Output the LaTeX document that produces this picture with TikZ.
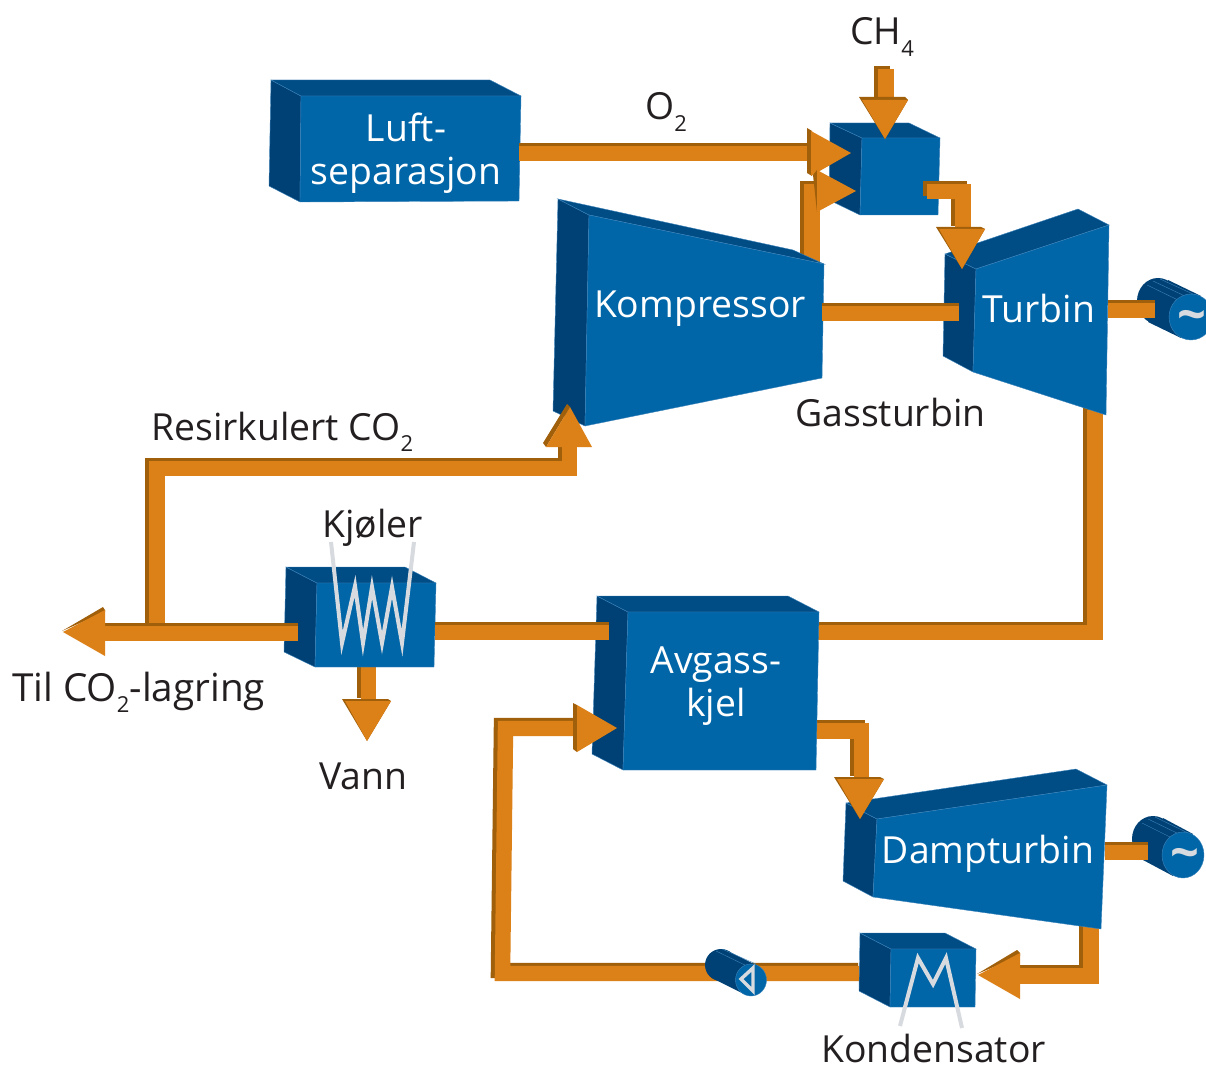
\documentclass[tikz,border=0pt]{standalone}
\usepackage{fontspec}
\setmainfont{Open Sans}
\usepackage{xcolor}

\definecolor{boxfront}{RGB}{0,102,168}
\definecolor{boxside}{RGB}{0,65,117}
\definecolor{boxtop}{RGB}{0,76,133}
\definecolor{boxedge}{RGB}{60,130,185}
\definecolor{pipeorange}{RGB}{220,128,24}
\definecolor{pipedark}{RGB}{160,95,10}
\definecolor{wiregray}{RGB}{215,218,222}
\definecolor{labelgray}{RGB}{35,31,32}

\newcommand{\lowtwo}[1]{\raisebox{-8.5pt}{\fontsize{16.5}{16.5}\selectfont #1}}

\tikzset{
  front/.style={fill=boxfront,draw=boxedge,line width=0.3pt},
  side/.style={fill=boxside,draw=boxedge,line width=0.3pt},
  top/.style={fill=boxtop,draw=boxedge,line width=0.3pt},
  pipe/.style={draw=pipeorange,line width=11.6pt},
  pipeshade/.style={draw=pipedark,line width=11.6pt,transform canvas={shift={(-3pt,2.25pt)}}},
  flatshade/.style={draw=pipedark,line width=11.6pt,transform canvas={shift={(0pt,2.25pt)}}},
  headface/.style={fill=pipeorange},
  headshade/.style={fill=pipedark},
  wire/.style={draw=wiregray,line width=3pt,miter limit=20},
  gencyl/.style={fill=boxside},
  stripe/.style={draw=boxedge,line width=0.3pt},
  tilde/.style={text=wiregray,font=\fontsize{38}{38}\bfseries\selectfont,inner sep=0pt},
  inbox/.style={text=white,font=\fontsize{28}{32}\selectfont,align=center,inner sep=0pt},
  outbox/.style={text=labelgray,font=\fontsize{28}{32}\selectfont,inner sep=0pt},
}

\begin{document}
\begin{tikzpicture}[x=0.75pt,y=0.75pt,yscale=-1,xscale=1]
\useasboundingbox (0,0) rectangle (1206,1066);

%pipe ends
\coordinate (luftout) at (519,153.5);
\coordinate (o2in) at (812,153.5);
\coordinate (kompout) at (812,262);
\coordinate (kompin) at (818,192);
\coordinate (chin) at (886,69);
\coordinate (chend) at (886,100);
\coordinate (burnout) at (927,191.5);
\coordinate (turbin) at (963,229);
\coordinate (kompshaft) at (822,313.5);
\coordinate (turbshaft) at (959,313.5);
\coordinate (turbgen) at (1108,310.5);
\coordinate (genturb) at (1155,310.5);
\coordinate (turbout) at (1095,410);
\coordinate (kjelin) at (815,632.5);
\coordinate (kjelout) at (609,632.5);
\coordinate (kjolin) at (435,632.5);
\coordinate (kjolout) at (298,633.5);
\coordinate (lagring) at (105,633.5);
\coordinate (tee) at (157,633);
\coordinate (kompin2) at (569.5,447);
\coordinate (kjolwater) at (368.5,660);
\coordinate (vannend) at (368.5,701);
\coordinate (kjelsteam) at (810,731);
\coordinate (dampin) at (861.5,779);
\coordinate (dampshaft) at (1105,852.5);
\coordinate (gendamp) at (1148,852.5);
\coordinate (dampout) at (1091,925);
\coordinate (kondin) at (1020,976);
\coordinate (kondout) at (862,973.5);
\coordinate (kjelwater) at (577,728.5);

%Pipes behind the boxes
\draw [pipeshade] (kompout) -- (812,192) -- (kompin);
\draw [pipe] (kompout) -- (812,192) -- (kompin);
\draw [pipeshade] (turbout) -- (1095,632.5) -- (kjelin);
\draw [pipe] (turbout) -- (1095,632.5) -- (kjelin);
\draw [pipeshade] (dampout) -- (1091,976) -- (kondin);
\draw [pipe] (dampout) -- (1091,976) -- (kondin);
\draw [pipeshade] (kondout) -- (502.5,973.5) -- (505.5,728.5) -- (kjelwater);
\draw [pipe] (kondout) -- (502.5,973.5) -- (505.5,728.5) -- (kjelwater);
\draw [pipeshade] (kjolwater) -- (vannend);
\draw [pipe] (kjolwater) -- (vannend);
\draw [pipeshade] (kjelsteam) -- (861.5,731) -- (dampin);
\draw [pipe] (kjelsteam) -- (861.5,731) -- (dampin);

%Luft-separasjon
\draw [side] (271,80) -- (301,96) -- (300,202) -- (269,186) -- cycle;
\draw [top] (271,80) -- (490,80) -- (521,96) -- (301,96) -- cycle;
\draw [front] (301,96) -- (521,96) -- (519,201) -- (300,202) -- cycle;
\node [inbox] (luft) at (406,153) {Luft-\\separasjon};

%Burner
\draw [side] (830,123) -- (862,138) -- (860,215) -- (829,200) -- cycle;
\draw [top] (830,123) -- (909,123) -- (940,138) -- (862,138) -- cycle;
\draw [front] (862,138) -- (940,138) -- (938,215) -- (860,215) -- cycle;

%Kompressor
\draw [side] (558,199) -- (589,215) -- (585,426) -- (553,411) -- cycle;
\draw [top] (558,199) -- (793,250) -- (824,264) -- (589,215) -- cycle;
\draw [front] (589,215) -- (824,264) -- (822,378) -- (585,426) -- cycle;
\node [inbox] (kompressor) at (700,309) {Kompressor};

%Turbin
\draw [side] (945,254) -- (976,269) -- (973,372) -- (943,356) -- cycle;
\draw [top] (945,254) -- (1078,209) -- (1109,225) -- (976,269) -- cycle;
\draw [front] (976,269) -- (1109,225) -- (1106,415) -- (973,372) -- cycle;
\node [inbox] (turbine) at (1039,308) {Turbin};

%Generator at Turbin
\fill [gencyl] (1158,301) ellipse [x radius=21, y radius=23];
\fill [gencyl] (1168,280) -- (1201,296) -- (1181,338) -- (1148,322) -- cycle;
\draw [stripe] (1160,279) -- (1195,295);
\draw [stripe] (1153,281) -- (1187,297);
\draw [stripe] (1147,285) -- (1180,301);
\draw [front] (1191,317) ellipse [x radius=22, y radius=23];
\node [tilde] (genone) at (1192,321) {\char`\~};

%Kjoeler
\draw [side] (286,567) -- (317,583) -- (315,667) -- (284,652) -- cycle;
\draw [top] (286,567) -- (405,567) -- (436,583) -- (317,583) -- cycle;
\draw [front] (317,583) -- (436,583) -- (434,667) -- (315,667) -- cycle;
\draw [wire] (331,542) -- (342,643) -- (355,586) -- (363,643) -- (372,587) -- (382,643) -- (392,587) -- (402,643) -- (414,542);

%Avgasskjel
\draw [side] (597,596) -- (628,612) -- (623,770) -- (592,754) -- cycle;
\draw [top] (597,596) -- (788,596) -- (819,612) -- (628,612) -- cycle;
\draw [front] (628,612) -- (819,612) -- (816,770) -- (623,770) -- cycle;
\node [inbox] (kjel) at (716,686) {Avgass-\\kjel};

%Dampturbin
\draw [side] (846,803) -- (877,819) -- (873,897) -- (843,881) -- cycle;
\draw [top] (846,803) -- (1076,769) -- (1107,785) -- (877,819) -- cycle;
\draw [front] (877,819) -- (1107,785) -- (1101,929) -- (873,897) -- cycle;
\node [inbox] (damp) at (988,854) {Dampturbin};

%Generator at Dampturbin
\fill [gencyl] (1153,839) ellipse [x radius=21, y radius=23];
\fill [gencyl] (1163,818) -- (1193,834) -- (1173,876) -- (1143,860) -- cycle;
\draw [stripe] (1155,817) -- (1188,833);
\draw [stripe] (1148,819) -- (1181,835);
\draw [stripe] (1142,823) -- (1174,839);
\draw [front] (1183,855) ellipse [x radius=21, y radius=23];
\node [tilde] (gentwo) at (1185,859) {\char`\~};

%Kondensator
\draw [side] (860,933) -- (891,949) -- (890,1007) -- (859,991) -- cycle;
\draw [top] (860,933) -- (945,933) -- (976,949) -- (891,949) -- cycle;
\draw [front] (891,949) -- (976,949) -- (975,1007) -- (890,1007) -- cycle;
\draw [wire] (900,1026) -- (918,958) -- (933,984) -- (946,958) -- (962,1028);

%Pump
\fill [gencyl] (721,965) ellipse [x radius=16, y radius=16];
\fill [gencyl] (728,951) -- (758,966) -- (744,994) -- (714,979) -- cycle;
\draw [stripe] (722,949) -- (756,964);
\draw [stripe] (716,951) -- (749,967);
\draw [front] (751,980) ellipse [x radius=15.5, y radius=16];
\draw [draw=wiregray,line width=2.6pt] (741,979) -- (753,968) -- (753,991) -- cycle;

%O2 pipe
\draw [flatshade] (luftout) -- (o2in);
\draw [pipe] (luftout) -- (o2in);
\fill [headshade] (807,128) -- (812,131) -- (812,176) -- (807,173) -- cycle;
\fill [headface] (811,131) -- (851,153) -- (811,176) -- cycle;

%Kompressor to burner head
\fill [headshade] (813,175) -- (817,170) -- (817,212) -- cycle;
\fill [headface] (817,170) -- (856,191) -- (817,212) -- cycle;

%CH4 pipe
\draw [pipeshade] (chin) -- (chend);
\draw [pipe] (chin) -- (chend);
\fill [headshade] (859,97) -- (905,97) -- (908,100) -- (885,139) -- cycle;
\fill [headface] (862,100) -- (908,100) -- (885,139) -- cycle;

%Burner to Turbin
\draw [pipeshade] (burnout) -- (963,191.5) -- (turbin);
\draw [pipe] (burnout) -- (963,191.5) -- (turbin);
\fill [headshade] (936,227) -- (981,227) -- (985,229) -- (962,269) -- cycle;
\fill [headface] (939,229) -- (985,229) -- (962,269) -- cycle;

%Shaft between Kompressor and Turbin
\draw [flatshade] (kompshaft) -- (turbshaft);
\draw [pipe] (kompshaft) -- (turbshaft);

%Shaft to generator
\draw [flatshade] (turbgen) -- (genturb);
\draw [pipe] (turbgen) -- (genturb);

%Avgasskjel to Kjoeler
\draw [flatshade] (kjolin) -- (kjelout);
\draw [pipe] (kjolin) -- (kjelout);

%Branch to Kompressor, Kjoeler to lagring
\draw [pipeshade] (tee) -- (157,468.5) -- (569.5,468.5) -- (kompin2);
\draw [pipe] (tee) -- (157,468.5) -- (569.5,468.5) -- (kompin2);
\draw [flatshade] (kjolout) -- (lagring);
\draw [pipe] (kjolout) -- (lagring);
\fill [headshade] (62,631) -- (103,607) -- (105,610) -- (105,612) -- cycle;
\fill [headface] (63,632) -- (105,610) -- (105,656) -- cycle;
\fill [headshade] (543,443) -- (567,404) -- (570,407) -- (546,447) -- cycle;
\fill [headface] (570,407) -- (592,447) -- (546,447) -- cycle;

%Head at Vann
\fill [headshade] (342,699) -- (388,699) -- (391,701) -- (367,741) -- cycle;
\fill [headface] (345,701) -- (391,701) -- (367,741) -- cycle;

%Head at Dampturbin
\fill [headshade] (834,777) -- (880,777) -- (884,779) -- (860,819) -- cycle;
\fill [headface] (837,779) -- (884,779) -- (860,819) -- cycle;

%Shaft to second generator
\draw [flatshade] (dampshaft) -- (gendamp);
\draw [pipe] (dampshaft) -- (gendamp);

%Heads at Kondensator and Avgasskjel
\fill [headshade] (977,974) -- (1017,950) -- (1020,953) -- (1020,956) -- cycle;
\fill [headface] (978,975) -- (1020,953) -- (1020,999) -- cycle;
\fill [headshade] (573,703) -- (577,705) -- (577,752) -- (573,749) -- cycle;
\fill [headface] (577,705) -- (617,728) -- (577,752) -- cycle;

%Labels
\node [outbox,anchor=base west] (otwo) at (645,120) {O\lowtwo{2}};
\node [outbox,anchor=base west] (chfour) at (850,45) {CH\lowtwo{4}};
\node [outbox,anchor=base west] (gass) at (795,426) {Gassturbin};
\node [outbox,anchor=base west] (resirk) at (151,440) {Resirkulert CO\lowtwo{2}};
\node [outbox,anchor=base west] (kjoler) at (322,537) {Kj\o ler};
\node [outbox,anchor=base west,font=\fontsize{29}{32}\selectfont] (til) at (12,701) {Til CO\lowtwo{2}-lagring};
\node [outbox,anchor=base west] (vann) at (319,789) {Vann};
\node [outbox,anchor=base west] (konden) at (821,1062) {Kondensator};

\end{tikzpicture}
\end{document}
